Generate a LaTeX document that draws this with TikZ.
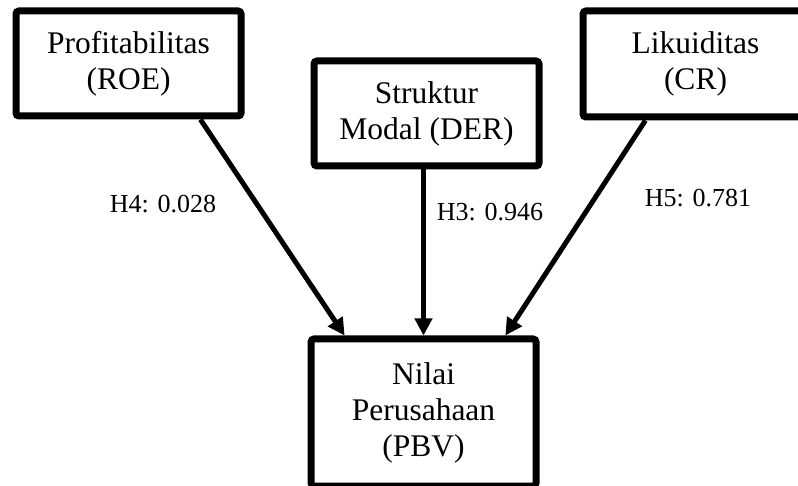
\documentclass[tikz,border=0pt]{standalone}
\usepackage{fontspec}
\setmainfont{Liberation Serif}
\usetikzlibrary{arrows.meta,calc}
\begin{document}
\begin{tikzpicture}[x=1pt,y=-1pt,
  varbox/.style={draw=black,line width=7pt,rounded corners=3pt,fill=white,
    minimum width=225pt,inner sep=0pt,align=center,
    font=\fontsize{31.5}{36}\selectfont},
  conn/.style={line width=5pt,-{Triangle[length=17pt,width=17pt]}},
  lbl/.style={font=\fontsize{26}{30}\selectfont,inner sep=0pt}]
\useasboundingbox (0,0) rectangle (798,486);
\node[varbox,minimum height=105pt] (roe) at (128.5,63.5) {Profitabilitas\\(ROE)};
\node[varbox,minimum height=105pt] (der) at (426.5,113.5) {Struktur\\Modal (DER)};
\node[varbox,minimum height=106pt] (cr) at (695.5,64) {Likuiditas\\(CR)};
\node[varbox,minimum height=147pt] (pbv) at (423.5,412.5) {Nilai\\Perusahaan\\(PBV)};
\draw[conn] ($(roe.south west)!0.81!(roe.south east)$) -- ($(pbv.north west)!0.16!(pbv.north east)$);
\draw[conn] (pbv.north |- der.south) -- (pbv.north);
\draw[conn] ($(cr.south west)!0.284!(cr.south east)$) -- ($(pbv.north west)!0.853!(pbv.north east)$);
\node[lbl] (h4) at (163,204) {H4: 0.028};
\node[lbl] (h3) at (490,212) {H3: 0.946};
\node[lbl] (h5) at (698,198) {H5: 0.781};
\end{tikzpicture}
\end{document}
